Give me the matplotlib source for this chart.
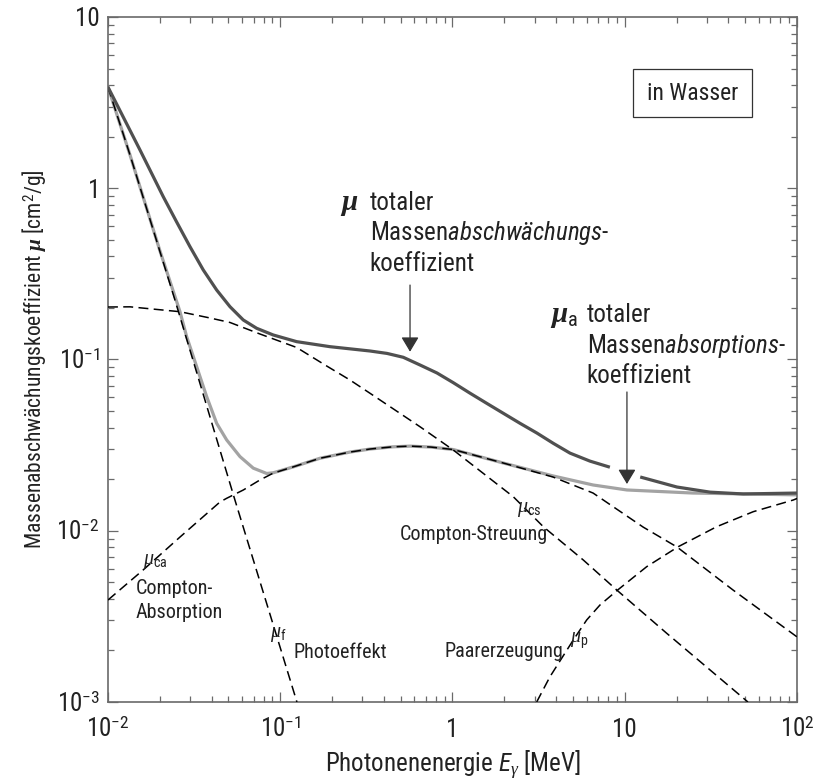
import numpy as np
import matplotlib
matplotlib.use("Agg")
import matplotlib.pyplot as plt
import matplotlib.transforms as mtransforms
from matplotlib import font_manager

# pick a narrow sans (Univers Condensed look) that has an italic too
ttf = font_manager.fontManager.ttflist
sans = 'DejaVu Sans'
for want in ['Roboto Condensed', 'Liberation Sans Narrow', 'Archivo Narrow', 'PT Sans Narrow',
             'Arial Narrow', 'Fira Sans Condensed', 'IBM Plex Sans Condensed', 'Encode Sans Condensed']:
    styles = {f.style for f in ttf if f.name == want}
    if 'normal' in styles and 'italic' in styles:
        sans = want
        break
plt.rcParams['font.family'] = [sans, 'DejaVu Sans']
plt.rcParams['mathtext.fontset'] = 'custom'
plt.rcParams['mathtext.rm'] = sans
plt.rcParams['mathtext.sf'] = sans + ':italic'
plt.rcParams['mathtext.it'] = 'Liberation Serif:italic'
plt.rcParams['mathtext.bf'] = 'Liberation Serif:italic:bold'

# ---- data (E in MeV, mu in cm^2/g) ----
mu_tot_E = [0.01, 0.01534, 0.01753, 0.02094, 0.02505, 0.02993, 0.03575, 0.04276, 0.05108, 0.06102,
            0.07299, 0.09114, 0.1246, 0.1944, 0.3319, 0.417, 0.518, 0.6475, 0.813, 1.011, 1.26, 1.579,
            1.96, 2.466, 3.09, 3.847, 4.81, 6.285, 8.20, 10.0, 12.3, 20.1, 31.3, 48.7, 100]
mu_tot = [3.90, 1.673, 1.278, 0.8924, 0.635, 0.4558, 0.3332, 0.2545, 0.2034, 0.1701,
          0.1521, 0.1390, 0.1271, 0.1188, 0.1121, 0.1085, 0.1030, 0.0929, 0.0834, 0.0732, 0.0637, 0.0555,
          0.0487, 0.0424, 0.0372, 0.0324, 0.0284, 0.0255, 0.0235, np.nan, 0.0206, 0.0180, 0.0168, 0.0164, 0.0166]

mu_a_E = [0.01, 0.01343, 0.02004, 0.02619, 0.02863, 0.03273, 0.03741, 0.04276, 0.04888, 0.05839,
          0.06977, 0.08342, 0.09114, 0.1191, 0.1701, 0.254, 0.332, 0.45, 0.567, 0.75, 1.01, 1.96, 3.83,
          6.55, 10.3, 24.9, 100]
mu_a = [3.90, 1.563, 0.4302, 0.1901, 0.1359, 0.0908, 0.0607, 0.0424, 0.0339, 0.0271,
        0.0232, 0.0216, 0.0218, 0.0236, 0.0265, 0.0288, 0.0300, 0.0309, 0.0312, 0.0308, 0.0298, 0.0249,
        0.0209, 0.0185, 0.0173, 0.0166, 0.0162]

mu_f_E = [0.01, 0.01343, 0.02448, 0.0546, 0.125]
mu_f = [3.90, 1.563, 0.2226, 0.0151, 0.001]

mu_cs_E = [0.01, 0.01343, 0.02619, 0.03911, 0.05108, 0.07625, 0.1246, 0.1819, 0.254, 0.332, 0.6475,
           1.011, 2.254, 3.367, 5.745, 8.982, 17.52, 51.9]
mu_cs = [0.2025, 0.203, 0.1901, 0.1747, 0.1645, 0.1409, 0.1175, 0.0929, 0.0759, 0.0635, 0.0405,
         0.0296, 0.0158, 0.01056, 0.00675, 0.00451, 0.00252, 0.001]

mu_ca_E = [0.01, 0.0160, 0.0262, 0.0447, 0.04888, 0.06102, 0.07625, 0.09114, 0.1191, 0.1701, 0.254,
           0.332, 0.45, 0.567, 0.75, 1.01, 1.96, 3.83, 6.55, 12.8, 20.1, 42.5, 100]
mu_ca = [0.00394, 0.0059, 0.00919, 0.01472, 0.01547, 0.01729, 0.01979, 0.0217, 0.0236, 0.0265, 0.0288,
         0.0300, 0.0309, 0.0312, 0.0308, 0.0298, 0.0249, 0.0206, 0.0166, 0.0105, 0.00804, 0.00451, 0.0024]

mu_p_E = [3.082, 3.681, 5.027, 6.013, 7.183, 9.100, 13.41, 20.46, 34.19, 55.74, 95.2, 100]
mu_p = [0.001, 0.001405, 0.002301, 0.003012, 0.003685, 0.004508, 0.006167, 0.008071, 0.01056, 0.01292,
        0.01512, 0.01543]

xticks = [1e-2, 1e-1, 1, 10, 1e2]
xticklabels = [r'$10^{-2}$', r'$10^{-1}$', '1', '10', r'$10^{2}$']
yticks = [1e-3, 1e-2, 1e-1, 1, 10]
yticklabels = [r'$10^{-3}$', r'$10^{-2}$', r'$10^{-1}$', '1', '10']

fig = plt.figure(figsize=(8.13, 7.82), dpi=100)
ax = fig.add_axes([0.1328, 0.1023, 0.8475, 0.8760])
ax.set_xscale('log')
ax.set_yscale('log')
ax.set_xlim(1e-2, 1e2)
ax.set_ylim(1e-3, 10)

dash = dict(color='black', lw=1.1, dashes=(6.5, 3.5), zorder=3)
ax.plot(mu_a_E, mu_a, color='#a3a3a3', lw=2.3, zorder=2, solid_joinstyle='round')
ax.plot(mu_f_E, mu_f, **dash)
ax.plot(mu_cs_E, mu_cs, **dash)
ax.plot(mu_ca_E, mu_ca, **dash)
ax.plot(mu_p_E, mu_p, **dash)
ax.plot(mu_tot_E, mu_tot, color='#505050', lw=2.3, zorder=4, solid_capstyle='butt',
        solid_joinstyle='round')

# axes look
for s in ax.spines.values():
    s.set_color('#6a6a6a')
    s.set_linewidth(1.2)
ax.tick_params(which='both', direction='in', top=True, right=True, color='#6a6a6a', width=0.9,
               labelbottom=False, labelleft=False)
ax.tick_params(which='major', length=7)
ax.tick_params(which='minor', length=4.5)
ax.set_xticks(xticks)
ax.set_yticks(yticks)
ax.xaxis.set_minor_locator(matplotlib.ticker.LogLocator(base=10, subs=np.arange(2, 10), numticks=20))
ax.yaxis.set_minor_locator(matplotlib.ticker.LogLocator(base=10, subs=np.arange(2, 10), numticks=20))
ax.xaxis.set_minor_formatter(matplotlib.ticker.NullFormatter())
ax.yaxis.set_minor_formatter(matplotlib.ticker.NullFormatter())

tc = '#222222'
# tick labels drawn by hand so the baselines line up
tx = mtransforms.blended_transform_factory(ax.transData, ax.transAxes) + \
    mtransforms.ScaledTranslation(0, -0.35, fig.dpi_scale_trans)
for v, lab in zip(xticks, xticklabels):
    ax.text(v, 0, lab, transform=tx, ha='center', va='baseline', fontsize=18, color=tc)
ty = mtransforms.blended_transform_factory(ax.transAxes, ax.transData) + \
    mtransforms.ScaledTranslation(-0.08, -0.095, fig.dpi_scale_trans)
for v, lab in zip(yticks, yticklabels):
    ax.text(0, v, lab, transform=ty, ha='right', va='baseline', fontsize=18, color=tc)

ax.set_xlabel(r'Photonenenergie $\mathsf{E}_{\gamma}$ [MeV]', fontsize=18, color=tc)
ax.xaxis.set_label_coords(0.5, -0.069)
ax.set_ylabel(r'Massenabschwächungskoeffizient $\mathbf{\mu}$ [cm$^2$/g]', fontsize=15.5, color=tc)
ax.yaxis.set_label_coords(-0.087, 0.5)

T = ax.transAxes
# big labels
ax.text(0.3367, 0.718, r'$\mathbf{\mu}$', transform=T, fontsize=21, va='baseline', color=tc)
ax.text(0.380, 0.718, 'totaler', transform=T, fontsize=18, va='baseline', color=tc)
ax.text(0.380, 0.6745, r'Massen$\mathsf{abschwächungs}$-', transform=T, fontsize=18, va='baseline', color=tc)
ax.text(0.380, 0.629, 'koeffizient', transform=T, fontsize=18, va='baseline', color=tc)

ax.text(0.6415, 0.5547, r'$\mathbf{\mu}_{\rm a}$', transform=T, fontsize=21, va='baseline', color=tc)
ax.text(0.6948, 0.5552, 'totaler', transform=T, fontsize=18, va='baseline', color=tc)
ax.text(0.6948, 0.5090, r'Massen$\mathsf{absorptions}$-', transform=T, fontsize=18, va='baseline', color=tc)
ax.text(0.6948, 0.4652, 'koeffizient', transform=T, fontsize=18, va='baseline', color=tc)

arrow = dict(arrowstyle='-|>,head_length=0.45,head_width=0.27', color='#333333', lw=0.9,
             mutation_scale=20, shrinkA=0, shrinkB=0)
ax.annotate('', xy=(0.567, 0.111), xytext=(0.567, 0.272), arrowprops=arrow, zorder=5)
ax.annotate('', xy=(10.3, 0.01875), xytext=(10.3, 0.0646), arrowprops=arrow, zorder=5)

# small labels
sm = 14.5
ax.text(0.0508, 0.2015, r'$\mu_{\rm ca}$', transform=T, fontsize=sm, va='baseline', color=tc)
ax.text(0.0402, 0.1572, 'Compton-', transform=T, fontsize=sm, va='baseline', color=tc)
ax.text(0.0402, 0.1222, 'Absorption', transform=T, fontsize=sm, va='baseline', color=tc)
ax.text(0.2351, 0.0949, r'$\mu_{\rm f}$', transform=T, fontsize=sm, va='baseline', color=tc)
ax.text(0.2689, 0.0638, 'Photoeffekt', transform=T, fontsize=sm, va='baseline', color=tc)
ax.text(0.5932, 0.2774, r'$\mu_{\rm cs}$', transform=T, fontsize=sm, va='baseline', color=tc)
ax.text(0.4238, 0.2365, 'Compton-Streuung', transform=T, fontsize=sm, va='baseline', color=tc)
ax.text(0.6705, 0.0861, r'$\mu_{\rm p}$', transform=T, fontsize=sm, va='baseline', color=tc)
ax.text(0.4891, 0.0661, 'Paarerzeugung', transform=T, fontsize=sm, va='baseline', color=tc)

# "in Wasser" box
ax.add_patch(plt.Rectangle((0.762, 0.854), 0.173, 0.070, transform=T, fill=False,
                           edgecolor='#333333', lw=0.9, zorder=5))
ax.text(0.848, 0.889, 'in Wasser', transform=T, fontsize=17, ha='center', va='center', color=tc)

fig.savefig('out.png', dpi=100)
